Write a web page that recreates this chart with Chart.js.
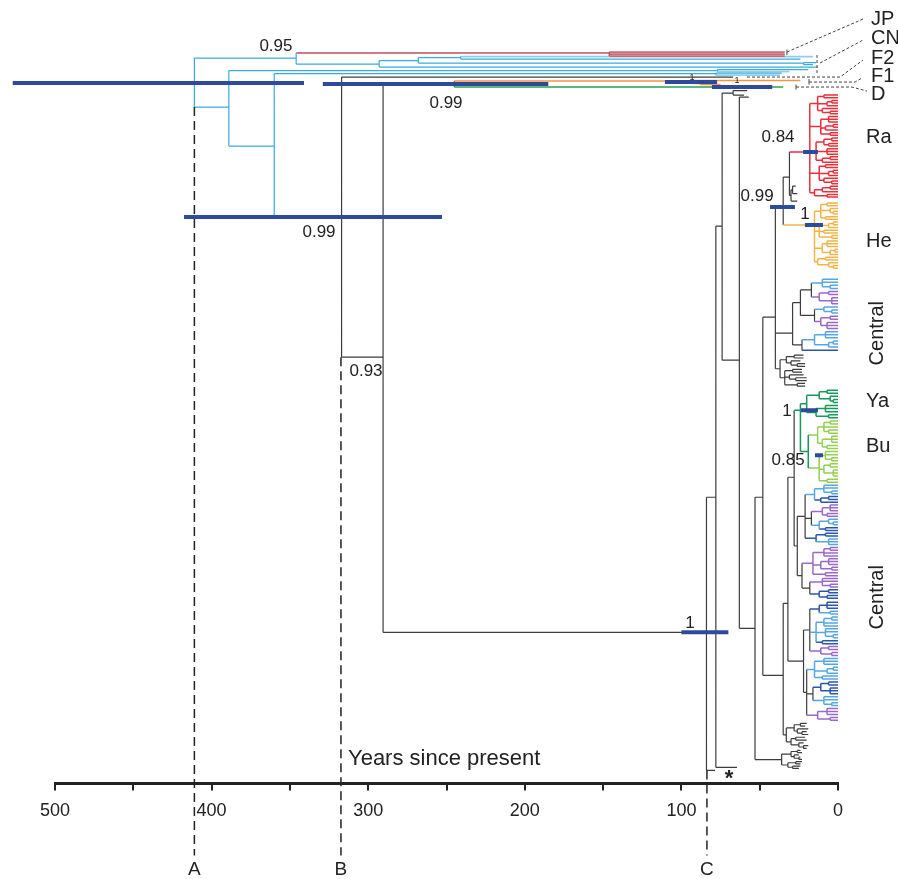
<!DOCTYPE html>
<html><head><meta charset="utf-8">
<script src="https://cdn.jsdelivr.net/npm/chart.js@4"></script>
<style>html,body{margin:0;padding:0;background:#fff;}canvas{display:block;}</style>
</head><body>
<canvas id="c" width="898" height="879"></canvas>
<script>
const FONT = '"Liberation Sans", Arial, Helvetica, sans-serif';

// ---- axis ----
const axisMax = 500;            // years before present
const axisStep = 50;
const rowMax = 783;             // vertical tree-row extent

// ---- colours (by key) ----
const palette = {
  k: '#3d3d3d', c: '#38ace0', cl: '#8ccfee', m: '#c0505c', mL: '#cc6a74',
  o2: '#f59542', g2: '#25a055', r: '#ec2f3b', o: '#f1b447',
  b: '#56a6e4', B: '#2b57aa', p: '#9a68c8', g: '#17985c', G: '#92d050'
};

// ---- explicit nodes: [id, parent, age (years), row, colour] ----
const outgroupNodes = [
  ['A', null, 411, 83, 'c'],
  ['jc', 'A', 346, 58, 'c'],
  ['jp', 'jc', 146, 53, 'm'],
  ['jp1', 'jp', 34, 52, 'mL'],
  ['jp2', 'jp', 34, 54, 'mL'],
  ['jp3', 'jp', 34, 56, 'mL'],
  ['cn', 'jc', 293, 64, 'c'],
  ['cn1', 'cn', 268, 60.5, 'c'],
  ['cn11', 'cn1', 241, 57.5, 'c'],
  ['cn111', 'cn11', 16, 56.5, 'cl'],
  ['cn112', 'cn11', 24, 59, 'c'],
  ['cn12', 'cn1', 22, 63, 'c'],
  ['cn121', 'cn12', 14, 62.5, 'c'],
  ['cn122', 'cn12', 16, 64.5, 'c'],
  ['cn2', 'cn', 13, 67, 'c'],
  ['f', 'A', 389, 107, 'c'],
  ['f2', 'f', 77, 70.5, 'c'],
  ['f21', 'f2', 19, 69.5, 'c'],
  ['f22', 'f2', 31, 71.5, 'cl'],
  ['g', 'f', 360, 146, 'c'],
  ['g1', 'g', 78, 73.5, 'c'],
  ['g11', 'g1', 36, 73, 'c'],
  ['g12', 'g1', 37, 75, 'cl']
];
const deepNodes = [
  ['B', 'g', 317, 217, 'k'],
  ['Bt', 'B', 67, 77, 'k'],
  ['N290', 'B', 290.5, 357, 'k'],
  ['FD', 'N290', 245, 84, 'k'],
  ['F1', 'FD', 93, 81, 'o2'],
  ['F1a', 'F1', 24, 80.5, 'o2'],
  ['F1b', 'F1', 88, 83.5, 'o2'],
  ['F1b1', 'F1b', 77, 82.5, 'o2'],
  ['F1b2', 'F1b', 75, 84.5, 'o2'],
  ['Dg', 'FD', 35, 87, 'g2'],
  ['C', 'N290', 84, 632, 'k'],
  ['tC', 'C', 78.5, 770, 'k'],
  ['N716', 'C', 78, 497, 'k'],
  ['tStar', 'N716', 64.5, 767, 'k'],
  ['N722', 'N716', 74, 226, 'k'],
  ['N733', 'N722', 67, 93, 'k'],
  ['N733a', 'N733', 58, 90.5, 'k'],
  ['N733b', 'N733', 60, 95, 'k'],
  ['N739', 'N722', 63, 360, 'k'],
  ['t739', 'N739', 57, 97, 'k'],
  ['N755', 'N739', 53, 628, 'k'],
  ['N763', 'N755', 48, 497, 'k'],
  ['N775', 'N763', 40, 317, 'k'],
  ['N783', 'N775', 35, 207, 'k'],
  ['N790', 'N783', 31, 177, 'k'],
  ['N784', 'N763', 35, 675, 'k'],
  ['N788', 'N784', 32, 603, 'k'],
  ['N795', 'N788', 28, 477, 'k']
];

// ---- clade subtrees: [age, colour?, ...children]; a bare number is a tip age ----
const raTree = [18, 'r',
  [13, [9, 0, 0], [7, [4, 0, 0], 0], [10, 0, [5, 0, 0]]],
  [11, [6, 0, 0, 0], [8, [3, 0, 0], 0], [5, 0, 0]],
  [14, [9, [4, 0, 0], [6, 0, 0]], [7, 0, 0, 0], [10, [5, 0, 0], 0]],
  [12, [8, 0, 0], [6, [3, 0, 0], 0], [9, 0, [4, 0, 0]]],
  [15, [10, [5, 0, 0], 0], [7, 0, 0]]
];
const bk1Tree = [30, 'k', [29, 27, 26], 26];
const heTree = [15, 'o',
  [11, [7, 0, 0], [5, 0, [3, 0, 0]], [8, 0, 0]],
  [12, [6, [3, 0, 0], 0], [9, 0, 0], [4, 0, 0]],
  [10, [7, 0, 0, 0], [5, [2, 0, 0], 0]],
  [13, [8, 0, 0], [6, 0, [3, 0, 0]]]
];
const c1Tree = [29, 'k',
  [24, 'k',
    [17, 'k', [10, 'b', 0, 0, [5, 0, 0]], [12, 'p', [6, 0, 0], [4, 0, 0, 0]]],
    [15, 'k', [9, 'b', 0, [4, 0, 0]], [11, 'p', [5, 0, 0], [7, 0, 0, 0]]]
  ],
  [23, 'k',
    [15, 'b', [8, 0, 0, 0], [6, [3, 0, 0], 0]],
    [0, 'B']
  ]
];
const tgTree = [37, 'k', [33, [28, 22, 22], [30, 24, [26, 21, 21]]],
  [34, [29, 23, 23], [31, 22, [27, 20, 20]], [26, 21, 21]]];
const yabuTree = [24, 'g',
  [20, [12, [7, 0, 0], [5, 0, [3, 0, 0]]], [14, [8, 0, 0, 0], [6, 0, 0]]],
  [19, [13, 'G', [9, [5, 0, 0], 0, [6, 0, 0]], [10, [4, 0, 0, 0], [7, 0, 0]]],
       [12, 'G', [8, 0, 0, [4, 0, 0]], [9, [5, 0, 0], [3, 0, 0, 0]], [7, 0, 0]]]
];
const c2aTree = [26, 'k',
  [21, 'k',
    [15, 'b', [9, 0, 0, [4, 0, 0]], [11, 'B', [6, 0, 0], 0]],
    [17, 'k', [10, 'p', [5, 0, 0, 0], [7, 0, 0]], [12, 'b', [6, 0, [3, 0, 0]], [8, 'B', 0, 0]]],
    [14, 'B', [8, 0, 0], [6, 'b', 0, 0, 0]]
  ],
  [23, 'k',
    [16, 'p', [9, [5, 0, 0], 0, 0], [11, [6, 0, 0, 0], [4, 0, 0]], [8, 0, 0]],
    [18, 'k', [10, 'p', 0, 0, [5, 0, 0]], [12, 'B', [6, 0, 0], [7, 0, 0]]]
  ]
];
const c2bTree = [22, 'k',
  [18, 'k',
    [12, 'B', [7, 0, 0, 0], [5, 'b', 0, 0]],
    [14, 'b', [9, [4, 0, 0], 0, 0], [8, 0, 0, [3, 0, 0]], [10, 'B', 0, 0]],
    [11, 'p', [6, 0, 0], [4, 0, 0]]
  ],
  [20, 'k',
    [15, 'b', [9, 0, 0, 0], [7, [3, 0, 0], 0], [10, 0, 0]],
    [16, 'k', [11, 'B', [6, 0, 0], [5, 0, 0, 0]], [9, 'b', 0, 0, [4, 0, 0]]],
    [13, 'p', [7, 0, 0, 0], [5, 0, 0]]
  ]
];
const bk2Tree = [33, 'k', [28, [24, 20, 21], [26, 19, [23, 20, 19]]], [30, [27, 21, 20], [25, 22, [22, 19, 20]]]];
const bk3Tree = [36, 'k', [30, [26, 24, 23], [28, 25, [25, 24, 23]]], [32, [27, 23, 24], [29, 24, 25]]];

// where clades hang: [name, parent node, first tip row, last tip row, tree, root row]
const cladeSlots = [
  ['Ra', 'N790', 95, 197, raTree, 152],
  ['Bk1', 'N790', 186, 201, bk1Tree, null],
  ['He', 'N783', 203, 268, heTree, 225],
  ['C1', 'N775', 279, 350, c1Tree, 333],
  ['Tg', 'N775', 355, 386, tgTree, null],
  ['YaBu', 'N795', 390, 482, yabuTree, 410],
  ['C2a', 'N795', 485, 598, c2aTree, null],
  ['C2b', 'N788', 602, 720, c2bTree, null],
  ['Bk2', 'N784', 723, 748, bk2Tree, null],
  ['Bk3', 'N755', 750, 768, bk3Tree, null]
];

// ---- 95% HPD bars: [upper age, lower age, node or row] ----
const hpdBars = [
  [527, 341, 'A'], [417.6, 252.9, 'B'], [329, 185, 'FD'], [110.5, 77.3, 82],
  [80.5, 42, 87], [100, 70, 'C'], [43.4, 27.5, 'N783'], [22.3, 12.8, 'Ra'],
  [21.1, 9.6, 'He'], [23.6, 12.8, 'YaBu'], [14.7, 9.6, 455]
];

// ---- texts ----
const supportLabels = [
  ['0.95', 358.9, 46], ['0.99', 250.3, 103], ['0.99', 331.4, 232], ['0.93', 301.4, 371],
  ['1', 94.5, 623], ['0.84', 38.3, 137], ['0.99', 51.7, 196], ['1', 21.1, 214],
  ['1', 32.6, 411], ['0.85', 31.9, 460]
];
const tinyLabels = [['1', 93.2, 77], ['1', 64.5, 80]];
const cladeLabels = [
  ['JP', -21.1, 19], ['CN', -21.1, 38], ['F2', -21.1, 58], ['F1', -21.1, 76], ['D', -21.1, 94],
  ['Ra', -17.9, 137], ['He', -17.9, 241], ['Ya', -17.9, 401], ['Bu', -17.9, 446]
];
const rotatedLabels = [['Central', -24.9, 333], ['Central', -24.9, 597]];
const leaderLines = [ // [dashed?, points (age,row)]
  [false, [[32.6, 49.5], [32.6, 55]]],
  [true, [[32.6, 52], [-16, 19]]],
  [true, [[13.4, 55], [13.4, 74]]],
  [true, [[11.5, 63], [-16, 40]]],
  [true, [[58.1, 77], [-1.3, 77], [-16, 60]]],
  [false, [[18.5, 79], [18.5, 84.5]]],
  [true, [[18.5, 82], [-10.9, 82], [-15.3, 78]]],
  [false, [[26.8, 84.5], [26.8, 89.5]]],
  [true, [[26.8, 87], [-8.9, 87], [-18.5, 91]]]
];
const refLines = [['A', 411, 107], ['B', 317.4, 357], ['C', 83.7, 770]];
const refBottomRow = 855, refLabelRow = 869;
const axisTitle = ['Years since present', 312.9, 759];
const starMark = ['*', 69.6, 779];

// ---------------- build segments ----------------
const segs = {};
function addSeg(col, x1, y1, x2, y2) {
  (segs[col] = segs[col] || []).push({x: x1, y: y1}, {x: x2, y: y2}, {x: null, y: null});
}
const allNodes = outgroupNodes.concat(deepNodes);
const nodeRow = {}, nodeAge = {}, kidRows = {};
allNodes.forEach(([id, p, age, row]) => {
  nodeRow[id] = row; nodeAge[id] = age;
  if (p) (kidRows[p] = kidRows[p] || []).push(row);
});
allNodes.forEach(([id, p, age, row, col]) => { if (p) addSeg(col, nodeAge[p], row, age, row); });

function norm(n, inh) {
  if (typeof n === 'number') return {age: n, color: inh, kids: []};
  const rest = n.slice(1);
  let color = inh;
  if (typeof rest[0] === 'string') color = rest.shift();
  return {age: n[0], color, kids: rest.map(k => norm(k, color))};
}
cladeSlots.forEach(([name, parent, r0, r1, tree, rootRow]) => {
  const root = norm(tree, 'k');
  const tips = [];
  (function walk(n) { if (!n.kids.length) tips.push(n); else n.kids.forEach(walk); })(root);
  tips.forEach((t, i) => { t.row = r0 + (r1 - r0) * i / Math.max(1, tips.length - 1); });
  (function place(n) {
    if (n.kids.length) { n.kids.forEach(place); n.row = (n.kids[0].row + n.kids[n.kids.length - 1].row) / 2; }
  })(root);
  if (rootRow != null) root.row = rootRow;
  nodeRow[name] = root.row;
  (kidRows[parent] = kidRows[parent] || []).push(root.row);
  addSeg(root.color, nodeAge[parent], root.row, root.age, root.row);
  (function draw(n) {
    if (!n.kids.length) return;
    const rs = n.kids.map(k => k.row);
    addSeg(n.color, n.age, Math.min(...rs), n.age, Math.max(...rs));
    n.kids.forEach(k => { addSeg(k.color, n.age, k.row, k.age, k.row); draw(k); });
  })(root);
});
allNodes.forEach(([id, p, age, row, col]) => {
  const rs = kidRows[id];
  if (rs && rs.length) addSeg(col, age, Math.min(...rs), age, Math.max(...rs));
});

const datasets = [];
const barPts = [];
hpdBars.forEach(([hi, lo, ref]) => {
  const r = typeof ref === 'number' ? ref : nodeRow[ref];
  barPts.push({x: hi, y: r}, {x: lo, y: r}, {x: null, y: null});
});
datasets.push({data: barPts, borderColor: '#2e4a9c', borderWidth: 4, order: 0,
  showLine: true, pointRadius: 0, spanGaps: false, clip: false, borderCapStyle: 'butt'});
Object.keys(segs).forEach(col => {
  const w = (col === 'mL' || col === 'cl') ? 1.8 : (col === 'k' || col === 'c' ? 1.2 : 1.5);
  datasets.push({data: segs[col], borderColor: palette[col], borderWidth: w,
    order: col === 'k' ? 2 : 1, showLine: true, pointRadius: 0, spanGaps: false, clip: false,
    borderCapStyle: 'butt', borderJoinStyle: 'miter'});
});

// ---------------- annotation plugin ----------------
const annot = {
  id: 'annot',
  afterDraw(chart) {
    const ctx = chart.ctx, sx = chart.scales.x, sy = chart.scales.y;
    const X = a => sx.getPixelForValue(a), Y = r => sy.getPixelForValue(r);
    ctx.save();
    ctx.strokeStyle = '#222'; ctx.lineWidth = 1.5; ctx.setLineDash([9, 5]);
    refLines.forEach(([lab, age, r]) => {
      ctx.beginPath(); ctx.moveTo(X(age), Y(r)); ctx.lineTo(X(age), Y(refBottomRow)); ctx.stroke();
    });
    ctx.setLineDash([]);
    ctx.fillStyle = '#222'; ctx.textAlign = 'center'; ctx.textBaseline = 'middle';
    ctx.font = '19px ' + FONT;
    refLines.forEach(([lab, age]) => ctx.fillText(lab, X(age), Y(refLabelRow)));
    ctx.strokeStyle = '#444'; ctx.lineWidth = 1;
    leaderLines.forEach(([dashed, pts]) => {
      ctx.setLineDash(dashed ? [3, 2] : []);
      ctx.beginPath();
      pts.forEach(([a, r], i) => i ? ctx.lineTo(X(a), Y(r)) : ctx.moveTo(X(a), Y(r)));
      ctx.stroke();
    });
    ctx.setLineDash([]);
    ctx.font = '17px ' + FONT;
    supportLabels.forEach(([t, a, r]) => ctx.fillText(t, X(a), Y(r)));
    ctx.font = '9px ' + FONT;
    tinyLabels.forEach(([t, a, r]) => ctx.fillText(t, X(a), Y(r)));
    ctx.font = 'bold 22px ' + FONT;
    ctx.fillText(starMark[0], X(starMark[1]), Y(starMark[2]));
    ctx.textAlign = 'left';
    ctx.font = '20px ' + FONT;
    cladeLabels.forEach(([t, a, r]) => ctx.fillText(t, X(a), Y(r)));
    ctx.font = '22px ' + FONT;
    ctx.fillText(axisTitle[0], X(axisTitle[1]), Y(axisTitle[2]));
    ctx.textAlign = 'center'; ctx.font = '20px ' + FONT;
    rotatedLabels.forEach(([t, a, r]) => {
      ctx.save(); ctx.translate(X(a), Y(r)); ctx.rotate(-Math.PI / 2); ctx.fillText(t, 0, 0); ctx.restore();
    });
    ctx.restore();
  }
};

new Chart(document.getElementById('c'), {
  type: 'scatter',
  data: {datasets},
  options: {
    responsive: false, animation: false, events: [], devicePixelRatio: 1,
    layout: {padding: {left: 55, right: 60, top: 0, bottom: 47}},
    plugins: {legend: {display: false}, tooltip: {enabled: false}},
    scales: {
      x: {
        type: 'linear', reverse: true, min: 0, max: axisMax, position: 'bottom',
        ticks: {stepSize: axisStep, autoSkip: false, maxRotation: 0, padding: 10, color: '#222',
          font: {family: FONT, size: 18}, callback: v => (v % 100 === 0 ? String(v) : '')},
        grid: {drawOnChartArea: false, drawTicks: true, tickLength: 7, color: '#222', lineWidth: 2},
        border: {display: true, color: '#222', width: 3}
      },
      y: {type: 'linear', reverse: true, min: 0, max: rowMax, display: false}
    }
  },
  plugins: [annot]
});
</script>
</body></html>
